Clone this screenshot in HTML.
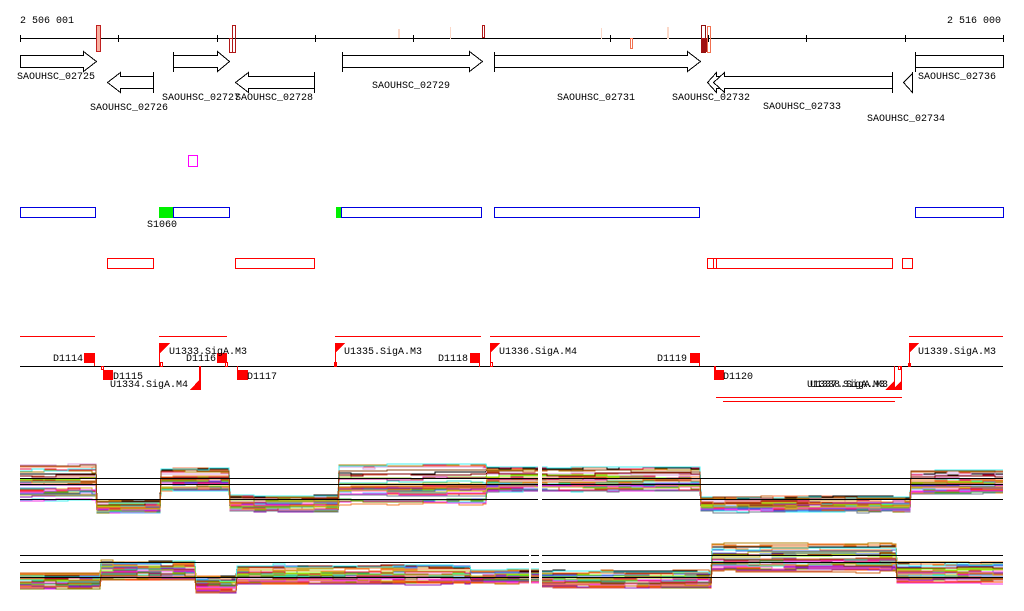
<!DOCTYPE html>
<html><head><meta charset="utf-8">
<style>
html,body{margin:0;padding:0;background:#fff;width:1024px;height:611px;overflow:hidden}
svg{display:block}
text{font-family:"Liberation Mono","DejaVu Sans Mono",monospace;font-size:10px;fill:#000}
</style></head><body>
<svg id="s" width="1024" height="611" viewBox="0 0 1024 611" xmlns="http://www.w3.org/2000/svg" shape-rendering="crispEdges">
<text x="20" y="23">2 506 001</text>
<text x="947" y="23">2 516 000</text>
<line x1="20" y1="38.5" x2="1003" y2="38.5" stroke="#000"/>
<g stroke="#000">
<line x1="20.5" y1="35" x2="20.5" y2="42"/><line x1="118.5" y1="35" x2="118.5" y2="42"/><line x1="217.5" y1="35" x2="217.5" y2="42"/>
<line x1="315.5" y1="35" x2="315.5" y2="42"/><line x1="413.5" y1="35" x2="413.5" y2="42"/><line x1="610.5" y1="35" x2="610.5" y2="42"/>
<line x1="708.5" y1="35" x2="708.5" y2="42"/><line x1="806.5" y1="35" x2="806.5" y2="42"/><line x1="905.5" y1="35" x2="905.5" y2="42"/><line x1="1003.5" y1="35" x2="1003.5" y2="42"/>
</g>
<rect x="96.5" y="25.5" width="4" height="26" fill="#f8b0a0" stroke="#c02020"/>
<rect x="229.5" y="38.5" width="3" height="14" fill="none" stroke="#b01818"/>
<rect x="232.5" y="25.5" width="3" height="27" fill="none" stroke="#b01818"/>
<rect x="398" y="29" width="2" height="9" fill="#fbd8c8"/>
<rect x="450" y="27" width="1" height="12" fill="#fbd8c8"/>
<rect x="482.5" y="25.5" width="2" height="12" fill="none" stroke="#b01818"/>
<rect x="601" y="28" width="1" height="11" fill="#fbd8c8"/>
<rect x="630.5" y="38.5" width="2" height="10" fill="none" stroke="#f07050"/>
<rect x="667" y="27" width="2" height="12" fill="#fbd8c8"/>
<rect x="701.5" y="25.5" width="4" height="27" fill="none" stroke="#901010"/>
<rect x="701" y="38" width="6" height="14" fill="#a01010"/>
<rect x="707.5" y="26.5" width="3" height="26" fill="none" stroke="#f07050"/>
<g fill="#fff" stroke="#000" stroke-width="1">
<polygon points="20.5,55.5 83.5,55.5 83.5,51.5 96.5,61.5 83.5,71.5 83.5,67.5 20.5,67.5"/>
<polygon points="107.5,82.5 120.5,72.5 120.5,76.5 153.5,76.5 153.5,88.5 120.5,88.5 120.5,92.5"/>
<line x1="153.5" y1="72" x2="153.5" y2="93"/>
<polygon points="173.5,55.5 217.5,55.5 217.5,51.5 229.5,61.5 217.5,71.5 217.5,67.5 173.5,67.5"/>
<line x1="173.5" y1="52" x2="173.5" y2="72"/>
<polygon points="235.5,82.5 248.5,72.5 248.5,76.5 314.5,76.5 314.5,88.5 248.5,88.5 248.5,92.5"/>
<line x1="314.5" y1="72" x2="314.5" y2="93"/>
<polygon points="342.5,55.5 469.5,55.5 469.5,51.5 482.5,61.5 469.5,71.5 469.5,67.5 342.5,67.5"/>
<line x1="342.5" y1="52" x2="342.5" y2="72"/>
<polygon points="494.5,55.5 687.5,55.5 687.5,51.5 700.5,61.5 687.5,71.5 687.5,67.5 494.5,67.5"/>
<line x1="494.5" y1="52" x2="494.5" y2="72"/>
<polygon points="707.5,82.5 716.5,72.5 716.5,76.5 720.5,76.5 720.5,88.5 716.5,88.5 716.5,92.5"/>
<polygon points="713.5,82.5 724.5,72.5 724.5,76.5 892.5,76.5 892.5,88.5 724.5,88.5 724.5,92.5"/>
<line x1="892.5" y1="72" x2="892.5" y2="93"/>
<polygon points="903.5,82.5 912.5,73.5 912.5,92.5"/>
<line x1="912.5" y1="72" x2="912.5" y2="93"/>
<polygon points="1003.5,55.5 915.5,55.5 915.5,67.5 1003.5,67.5"/>
<line x1="915.5" y1="52" x2="915.5" y2="72"/>
</g>
<text x="17" y="79">SAOUHSC_02725</text>
<text x="90" y="110">SAOUHSC_02726</text>
<text x="162" y="100">SAOUHSC_02727</text>
<text x="235" y="100">SAOUHSC_02728</text>
<text x="372" y="88">SAOUHSC_02729</text>
<text x="557" y="100">SAOUHSC_02731</text>
<text x="672" y="100">SAOUHSC_02732</text>
<text x="763" y="109">SAOUHSC_02733</text>
<text x="867" y="121">SAOUHSC_02734</text>
<text x="918" y="79">SAOUHSC_02736</text>
<rect x="188.5" y="155.5" width="9" height="11" fill="none" stroke="#f0f"/>
<g fill="none" stroke="#0000e0">
<rect x="20.5" y="207.5" width="75" height="10"/>
<rect x="173.5" y="207.5" width="56" height="10"/>
<rect x="341.5" y="207.5" width="140" height="10"/>
<rect x="494.5" y="207.5" width="205" height="10"/>
<rect x="915.5" y="207.5" width="88" height="10"/>
</g>
<rect x="159" y="207" width="14" height="11" fill="#00f000"/>
<rect x="336" y="207" width="5" height="11" fill="#00f000"/>
<text x="147" y="227">S1060</text>
<g fill="none" stroke="#f00">
<rect x="107.5" y="258.5" width="46" height="10"/>
<rect x="235.5" y="258.5" width="79" height="10"/>
<rect x="707.5" y="258.5" width="185" height="10"/>
<line x1="713.5" y1="258" x2="713.5" y2="269"/><line x1="716.5" y1="258" x2="716.5" y2="269"/>
<rect x="902.5" y="258.5" width="10" height="10"/>
</g>
<g stroke="#f00">
<line x1="20" y1="336.5" x2="95" y2="336.5"/><line x1="159" y1="336.5" x2="227" y2="336.5"/>
<line x1="335" y1="336.5" x2="481" y2="336.5"/><line x1="490" y1="336.5" x2="700" y2="336.5"/>
<line x1="909" y1="336.5" x2="1003" y2="336.5"/>
<line x1="716" y1="397.5" x2="902" y2="397.5"/><line x1="723" y1="401.5" x2="895" y2="401.5"/>
</g>
<line x1="20" y1="366.5" x2="1003" y2="366.5" stroke="#000"/>
<g fill="#f00" stroke="none">
<rect x="84" y="353" width="11" height="10"/><rect x="94" y="353" width="1" height="13"/>
<rect x="103" y="370" width="10" height="10"/><rect x="103" y="366" width="1" height="5"/>
<rect x="217" y="353" width="10" height="10"/>
<rect x="237" y="366" width="1" height="10"/><rect x="237" y="370" width="11" height="10"/>
<rect x="470" y="353" width="10" height="10"/><rect x="479" y="353" width="1" height="14"/>
<rect x="690" y="353" width="10" height="10"/><rect x="699" y="353" width="1" height="13"/>
<rect x="714" y="366" width="2" height="4"/><rect x="714" y="370" width="10" height="10"/>
<polygon points="160,343 170,343 160,353"/><rect x="159" y="343" width="1" height="23"/>
<polygon points="335,343 345,343 335,353"/><rect x="335" y="343" width="1" height="23"/>
<polygon points="490,343 500,343 490,353"/><rect x="490" y="343" width="1" height="23"/>
<polygon points="909,343 919,343 909,353"/><rect x="909" y="343" width="1" height="23"/><rect x="908" y="363" width="3" height="4"/>
<polygon points="200,379 200,390 190,390"/><rect x="199" y="366" width="2" height="24"/>
<polygon points="895,380 895,390 885,390"/><rect x="894" y="366" width="1" height="24"/>
<polygon points="902,380 902,390 892,390"/><rect x="901" y="366" width="1" height="24"/>
</g>
<g fill="none" stroke="#f00">
<rect x="101.5" y="366.5" width="2" height="3"/><rect x="160.5" y="362.5" width="2" height="4"/>
<rect x="225.5" y="362.5" width="2" height="4"/><rect x="334.5" y="362.5" width="2" height="4"/>
<rect x="490.5" y="362.5" width="2" height="4"/><rect x="898.5" y="366.5" width="2" height="3"/>
</g>
<text x="53" y="361">D1114</text>
<text x="113" y="379">D1115</text>
<text x="110" y="387">U1334.SigA.M4</text>
<text x="169" y="354">U1333.SigA.M3</text>
<text x="186" y="361">D1116</text>
<text x="247" y="379">D1117</text>
<text x="344" y="354">U1335.SigA.M3</text>
<text x="438" y="361">D1118</text>
<text x="499" y="354">U1336.SigA.M4</text>
<text x="657" y="361">D1119</text>
<text x="723" y="379">D1120</text>
<text x="807" y="387">U1337.SigA.M3</text>
<text x="810" y="387">U1338.SigA.M3</text>
<text x="918" y="354">U1339.SigA.M3</text>
<g id="prof"></g>
<g stroke="#000">
<line x1="20" y1="478.5" x2="1003" y2="478.5"/><line x1="20" y1="484.5" x2="1003" y2="484.5"/><line x1="20" y1="499.5" x2="1003" y2="499.5"/>
<line x1="20" y1="555.5" x2="1003" y2="555.5"/><line x1="20" y1="562.5" x2="1003" y2="562.5"/><line x1="20" y1="577.5" x2="1003" y2="577.5"/>
</g>
<rect x="538" y="455" width="4" height="65" fill="#fff"/>
<rect x="529" y="540" width="2" height="55" fill="#fff"/>
<rect x="539" y="540" width="3" height="55" fill="#fff"/>
</svg>
<script>
(function(){
var g=document.getElementById('prof');
var cols=['#e6194b','#3cb44b','#4363d8','#f58231','#911eb4','#46f0f0','#f032e6','#bcbd22','#d2691e','#8b4513','#e07050','#9acd32','#c080c0','#6495ed','#ff7f50','#000','#808000','#c71585','#66b3ff','#a0522d','#dda0dd','#ff4500','#7cfc00','#708090','#b8860b','#cd5c5c','#40e0d0','#800000','#daa520','#ff69b4'];
var p1=[[20,96,465,500],[97,160,501,513],[161,229,469,491],[230,338,495,511],[339,486,465,504],[487,700,468,492],[701,910,497,512],[911,1003,471,493]];
var p2=[[20,100,573,588],[101,195,561,580],[196,236,577,592],[237,470,565,584],[471,540,570,585],[541,711,571,587],[712,896,544,572],[897,1003,563,583]];
var seed=7;function r(){seed=(seed*16807)%2147483647;return seed/2147483647;}
function bundle(P,n){
 for(var i=0;i<n;i++){
  var f=r(),pts=[];
  for(var s=0;s<P.length;s++){
   var a=P[s],y0=a[2]+(a[3]-a[2])*Math.min(1,Math.max(0,f+(r()-0.5)*0.3));
   var y=y0;
   for(var x=a[0];x<=a[1];x+=12){
     if(r()<0.4){y=y0+(r()-0.5)*3;}
     pts.push(x+','+y.toFixed(0));pts.push(Math.min(x+12,a[1])+','+y.toFixed(0));
   }
  }
  var pl=document.createElementNS('http://www.w3.org/2000/svg','polyline');
  pl.setAttribute('points',pts.join(' '));pl.setAttribute('fill','none');
  pl.setAttribute('stroke',cols[i%cols.length]);pl.setAttribute('stroke-width','1');
  g.appendChild(pl);
 }
}
bundle(p1,40);bundle(p2,40);
})();
</script>
</body></html>
